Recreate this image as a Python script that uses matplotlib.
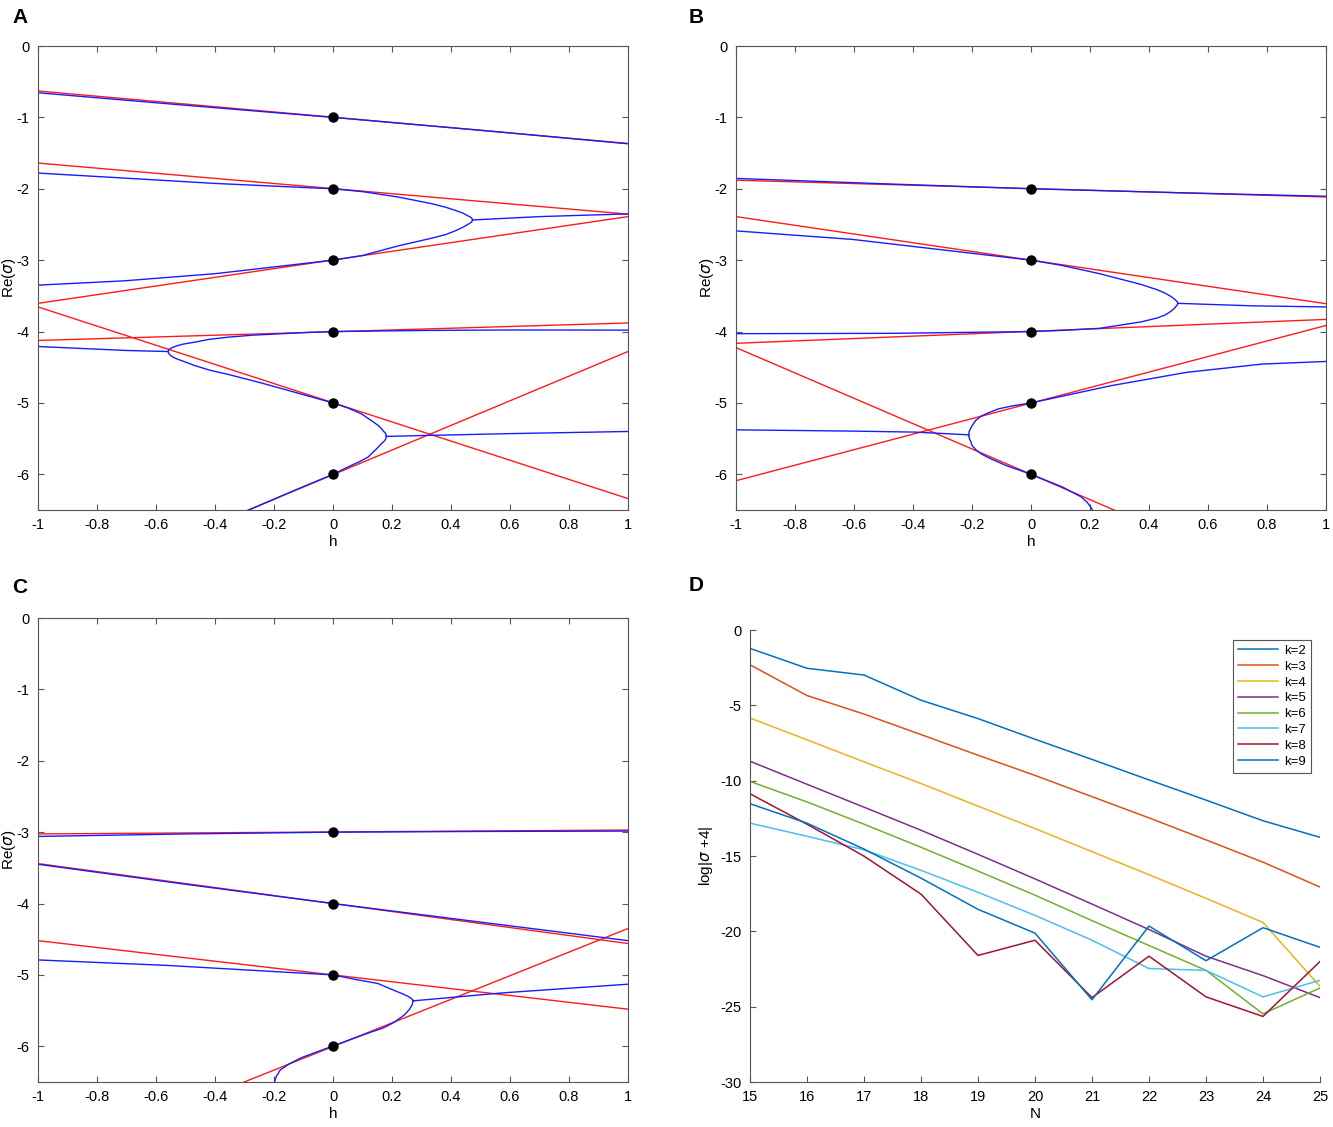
import matplotlib
matplotlib.use("Agg")
import matplotlib.pyplot as plt
from matplotlib.ticker import FormatStrFormatter

plt.rcParams['font.family'] = ['Liberation Sans', 'DejaVu Sans']
plt.rcParams['axes.unicode_minus'] = False
plt.rcParams['mathtext.fontset'] = 'dejavusans'

# ---------------- panel A ----------------
a_dots = [-1, -2, -3, -4, -5, -6]
# red lines: value at h=-1 and at h=1
a_red = [(-0.63, -1.365), (-1.64, -2.355), (-3.605, -2.39),
         (-4.125, -3.88), (-3.655, -6.34), (-7.73, -4.28)]
a_blue_h = [
    [-1, -0.5, 0, 0.5, 1],
    [-1, -0.709, -0.401, -0.136, 0, 0.1, 0.223, 0.337, 0.383, 0.416, 0.44, 0.456, 0.467, 0.471, 0.473],
    [-1, -0.709, -0.401, -0.136, 0, 0.1, 0.223, 0.337, 0.383, 0.416, 0.44, 0.456, 0.467, 0.471, 0.473],
    [0.473, 0.7, 1.0],
    [-1, -0.695, -0.559],
    [-0.559, -0.557, -0.554, -0.549, -0.542, -0.529, -0.51, -0.469, -0.42, -0.356, -0.27, -0.186, -0.09, 0,
     0.3, 0.6, 1],
    [-0.559, -0.557, -0.554, -0.549, -0.542, -0.529, -0.509, -0.469, -0.419, -0.356, -0.243, -0.130, 0,
     0.05, 0.096, 0.131, 0.153, 0.165, 0.172, 0.176, 0.179, 0.181],
    [0.181, 0.179, 0.176, 0.171, 0.164, 0.151, 0.136, 0.119, 0.091, 0.051, 0, -0.130, -0.282, -0.29],
    [0.181, 0.322, 0.6, 1.0],
]
a_blue_y = [
    [-0.655, -0.83, -1.0, -1.18, -1.37],
    [-1.78, -1.85, -1.925, -1.975, -2.0, -2.04, -2.117, -2.211, -2.26, -2.305, -2.34, -2.376, -2.40, -2.415, -2.437],
    [-3.35, -3.29, -3.19, -3.065, -3.0, -2.935, -2.798, -2.69, -2.64, -2.587, -2.54, -2.502, -2.475, -2.458, -2.437],
    [-2.437, -2.39, -2.352],
    [-4.21, -4.266, -4.28],
    [-4.28, -4.259, -4.247, -4.234, -4.22, -4.2, -4.178, -4.149, -4.11, -4.079, -4.05, -4.033, -4.013, -4.0,
     -3.985, -3.978, -3.98],
    [-4.28, -4.307, -4.322, -4.34, -4.359, -4.384, -4.414, -4.476, -4.54, -4.60, -4.72, -4.85, -5.0,
     -5.07, -5.152, -5.25, -5.315, -5.365, -5.40, -5.415, -5.435, -5.469],
    [-5.469, -5.50, -5.525, -5.545, -5.571, -5.63, -5.69, -5.758, -5.82, -5.897, -6.0, -6.224, -6.494, -6.51],
    [-5.469, -5.455, -5.43, -5.40],
]

# ---------------- panel B ----------------
b_dots = [-2, -3, -4, -5, -6]
b_red = [(-1.88, -2.115), (-2.39, -3.61), (-4.165, -3.83),
         (-6.09, -3.915), (-4.225, -7.775)]
b_blue_h = [
    [-1, -0.5, 0, 0.5, 1],
    [-1, -0.604, 0, 0.1, 0.233, 0.373, 0.428, 0.456, 0.473, 0.485, 0.493, 0.496, 0.498],
    [-1, -0.465, 0, 0.1, 0.233, 0.373, 0.428, 0.456, 0.473, 0.485, 0.493, 0.496, 0.498],
    [0.498, 0.75, 1],
    [-1, -0.6, -0.392, -0.211],
    [-0.211, -0.21, -0.208, -0.205, -0.199, -0.188, -0.171, -0.151, -0.111, -0.061, 0,
     0.272, 0.527, 0.783, 1],
    [-0.211, -0.21, -0.208, -0.205, -0.2, -0.186, -0.166, -0.137, -0.086, 0,
     0.106, 0.170, 0.19, 0.202, 0.208, 0.212],
]
b_blue_y = [
    [-1.855, -1.93, -2.0, -2.055, -2.105],
    [-2.59, -2.71, -3.0, -3.07, -3.19, -3.34, -3.415, -3.465, -3.505, -3.54, -3.57, -3.585, -3.605],
    [-4.03, -4.025, -4.0, -3.985, -3.955, -3.865, -3.81, -3.765, -3.72, -3.68, -3.64, -3.625, -3.605],
    [-3.605, -3.64, -3.655],
    [-5.377, -5.395, -5.409, -5.447],
    [-5.447, -5.41, -5.385, -5.36, -5.315, -5.247, -5.19, -5.15, -5.084, -5.04, -5.0,
     -4.758, -4.572, -4.456, -4.419],
    [-5.447, -5.48, -5.51, -5.53, -5.595, -5.66, -5.72, -5.781, -5.874, -6.0,
     -6.177, -6.316, -6.39, -6.456, -6.5, -6.52],
]

# ---------------- panel C ----------------
c_dots = [-3, -4, -5, -6]
c_red = [(-3.025, -2.97), (-3.44, -4.56), (-4.52, -5.48), (-7.655, -4.35)]
c_blue_h = [
    [-1, -0.5, 0, 0.5, 1],
    [-1, -0.5, 0, 0.5, 1],
    [-1, -0.566, 0, 0.072, 0.152, 0.212, 0.236, 0.252, 0.262, 0.267, 0.270, 0.272],
    [0.272, 0.270, 0.268, 0.264, 0.258, 0.242, 0.208, 0.172, 0.122, 0, -0.107, -0.15, -0.179, -0.192, -0.2],
    [0.272, 0.58, 1],
]
c_blue_y = [
    [-3.06, -3.025, -3.0, -2.99, -2.985],
    [-3.45, -3.73, -4.0, -4.26, -4.52],
    [-4.79, -4.866, -5.0, -5.06, -5.12, -5.225, -5.265, -5.295, -5.32, -5.335, -5.345, -5.363],
    [-5.363, -5.39, -5.42, -5.45, -5.488, -5.56, -5.662, -5.74, -5.811, -5.995, -6.159, -6.25, -6.333, -6.42, -6.52],
    [-5.363, -5.25, -5.13],
]

# ---------------- panel D ----------------
N = [15, 16, 17, 18, 19, 20, 21, 22, 23, 24, 25]
k_labels = ['k=2', 'k=3', 'k=4', 'k=5', 'k=6', 'k=7', 'k=8', 'k=9']
err_k2 = [-1.22, -2.54, -2.99, -4.66, -5.88, -7.25, -8.59, -9.95, -11.29, -12.66, -13.76]
err_k3 = [-2.31, -4.35, -5.58, -6.94, -8.31, -9.65, -11.06, -12.47, -13.93, -15.41, -17.06]
err_k4 = [-5.84, -7.29, -8.75, -10.19, -11.69, -13.18, -14.71, -16.24, -17.81, -19.41, -23.65]
err_k5 = [-8.71, -10.24, -11.76, -13.29, -14.89, -16.52, -18.19, -19.88, -21.65, -22.94, -24.4]
err_k6 = [-10.05, -11.41, -12.89, -14.42, -16.0, -17.6, -19.29, -20.94, -22.59, -25.48, -23.76]
err_k7 = [-12.82, -13.69, -14.59, -15.95, -17.41, -18.94, -20.59, -22.47, -22.59, -24.35, -23.25]
err_k8 = [-10.87, -12.89, -15.01, -17.53, -21.6, -20.59, -24.4, -21.65, -24.35, -25.65, -22.0]
err_k9 = [-11.53, -12.82, -14.54, -16.47, -18.54, -20.12, -24.54, -19.65, -21.95, -19.76, -21.06]
k_colors = ['#0072BD', '#D95319', '#EDB120', '#7E2F8E', '#77AC30', '#4DBEEE', '#A2142F', '#0072BD']

W, H = 1333, 1127
fig = plt.figure(figsize=(W / 100, H / 100), dpi=100)

spine_col = '#555555'


def style_box(ax):
    for s in ax.spines.values():
        s.set_color(spine_col)
        s.set_linewidth(0.8)
    ax.tick_params(direction='in', top=True, right=True, length=4, width=0.8,
                   color=spine_col, labelsize=10.5, pad=6)


def panel(rect, dots, red, bh, by):
    ax = fig.add_axes(rect)
    for y0, y1 in red:
        ax.plot([-1, 1], [y0, y1], color='#ff1a1a', lw=1.0)
    for hh, yy in zip(bh, by):
        ax.plot(hh, yy, color='#1a1aff', lw=1.0)
    ax.plot([0] * len(dots), dots, 'o', color='black', ms=6.5, zorder=5)
    ax.set_xlim(-1, 1)
    ax.set_ylim(-6.5, 0)
    ax.set_xticks([-1, -0.8, -0.6, -0.4, -0.2, 0, 0.2, 0.4, 0.6, 0.8, 1])
    ax.set_yticks([-6, -5, -4, -3, -2, -1, 0])
    ax.xaxis.set_major_formatter(FormatStrFormatter('%g'))
    ax.yaxis.set_major_formatter(FormatStrFormatter('%g'))
    ax.set_xlabel('h', fontsize=11, labelpad=2)
    ax.set_ylabel(r'Re($\sigma$)', fontsize=11, labelpad=-1)
    style_box(ax)
    return ax


def fx(px):
    return px / W


def fy(py):
    return 1 - py / H


ax_a = panel([fx(38), fy(510), fx(590), 464 / H], a_dots, a_red, a_blue_h, a_blue_y)
ax_b = panel([fx(736), fy(510), fx(590), 464 / H], b_dots, b_red, b_blue_h, b_blue_y)
ax_c = panel([fx(38), fy(1082), fx(590), 464 / H], c_dots, c_red, c_blue_h, c_blue_y)

ax_d = fig.add_axes([fx(750), fy(1082), fx(570), 452 / H])
series = [err_k2, err_k3, err_k4, err_k5, err_k6, err_k7, err_k8, err_k9]
for vals, lab, col in zip(series, k_labels, k_colors):
    ax_d.plot(N, vals, color=col, lw=1.1, label=lab)
ax_d.set_xlim(15, 25)
ax_d.set_ylim(-30, 0)
ax_d.set_xticks(N)
ax_d.set_yticks([-30, -25, -20, -15, -10, -5, 0])
ax_d.xaxis.set_major_formatter(FormatStrFormatter('%g'))
ax_d.yaxis.set_major_formatter(FormatStrFormatter('%g'))
ax_d.spines['top'].set_visible(False)
ax_d.spines['right'].set_visible(False)
for s in ['left', 'bottom']:
    ax_d.spines[s].set_color(spine_col)
    ax_d.spines[s].set_linewidth(0.8)
ax_d.tick_params(direction='in', length=4, width=0.8, color=spine_col,
                 labelsize=10.5, pad=6)
ax_d.set_xlabel('N', fontsize=11, labelpad=2)
ax_d.set_ylabel(r'log|$\sigma$ +4|', fontsize=11, labelpad=4)
leg = ax_d.legend(loc='upper right', bbox_to_anchor=(0.9965, 0.9935), fontsize=9.5,
                  handlelength=3.0, labelspacing=0.27, handletextpad=0.5,
                  borderpad=0.4, fancybox=False, framealpha=1)
leg.get_frame().set_edgecolor(spine_col)
leg.get_frame().set_linewidth(0.8)

for lab, x, y in [('A', 12, 8), ('B', 689, 8), ('C', 12, 578), ('D', 689, 576)]:
    fig.text(fx(x), fy(y), lab, fontsize=15, fontweight='bold', va='top', ha='left')

fig.savefig('out.png', dpi=100)
